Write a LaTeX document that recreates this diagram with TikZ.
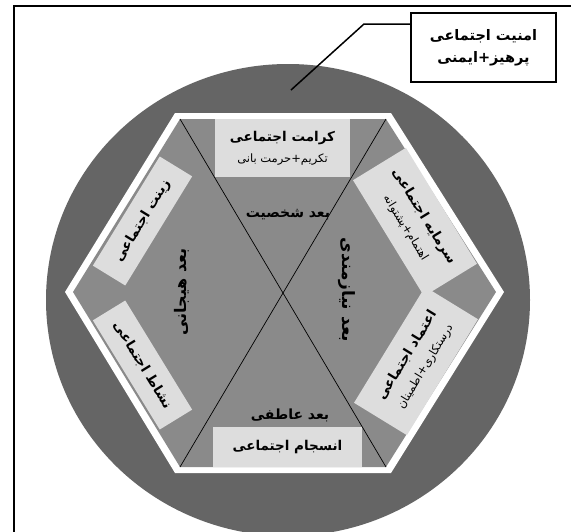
\documentclass[tikz,border=0pt]{standalone}
\usepackage{fontspec}
\usepackage{tikz}
\newfontfamily\arabicfont[Script=Arabic]{DejaVu Sans}
\TeXXeTstate=1
\definecolor{ringgray}{HTML}{656565}
\definecolor{hexgray}{HTML}{8A8A8A}
\definecolor{boxgray}{HTML}{DDDDDD}
\newcommand{\fatext}[1]{{\arabicfont\beginR #1\endR}}
\newcommand{\subline}[1]{{\mdseries\fontsize{11.5}{13}\selectfont\fatext{#1}}}

\begin{document}
\begin{tikzpicture}[x=1pt, y=-1pt,
    lbl/.style={fill=boxgray, inner sep=0pt, align=center, font=\bfseries\fontsize{13.5}{21}\selectfont},
    dimlbl/.style={inner sep=0pt, font=\bfseries\fontsize{14}{16}\selectfont}
]
    \useasboundingbox (0,0) rectangle (571,531);
    \clip (0,0) rectangle (571,531);
    \fill[white] (0,0) rectangle (571,531);

    % Frame
    \draw[line width=2.7] (14,540) -- (14,6) -- (580,6);

    % Ring
    \fill[ringgray] (288,300) ellipse [x radius=242, y radius=236];

    % Hexagon
    \coordinate (oL) at (65,292);
    \coordinate (oTL) at (175,113);
    \coordinate (oTR) at (391,113);
    \coordinate (oR) at (504,292);
    \coordinate (oBR) at (391,473);
    \coordinate (oBL) at (175,473);
    \coordinate (iL) at (73,292);
    \coordinate (iTL) at (180,119);
    \coordinate (iTR) at (386,119);
    \coordinate (iR) at (496,292);
    \coordinate (iBR) at (386,467);
    \coordinate (iBL) at (180,467);
    \fill[white] (oL) -- (oTL) -- (oTR) -- (oR) -- (oBR) -- (oBL) -- cycle;
    \fill[hexgray] (iL) -- (iTL) -- (iTR) -- (iR) -- (iBR) -- (iBL) -- cycle;
    \draw[line width=0.7] (iTL) -- (iBR);
    \draw[line width=0.7] (iTR) -- (iBL);

    % Boxes
    \node[lbl, minimum width=135, minimum height=58] (karamat) at (282.5,148)
        {\fatext{کرامت اجتماعی}\\\subline{تکریم+حرمت بانی}};
    \node[lbl, minimum width=149, minimum height=40] (ensejam) at (287.5,447)
        {\fatext{انسجام اجتماعی}};
    \node[lbl, minimum width=128, minimum height=38, rotate=58.5] (zinat) at (142.5,221)
        {\fatext{زینت اجتماعی}};
    \node[lbl, minimum width=128, minimum height=38, rotate=-58.5] (neshat) at (142.5,365)
        {\fatext{نشاط اجتماعی}};
    \node[lbl, minimum width=136, minimum height=62, rotate=-58.5] (sarmaye) at (415,222)
        {\fatext{سرمایه اجتماعی}\\\subline{اهتمام+پشتوانه}};
    \node[lbl, minimum width=136, minimum height=62, rotate=58.5] (etemad) at (416,361)
        {\fatext{اعتماد اجتماعی}\\\subline{درستکاری+اطمینان}};

    % Dimensions
    \node[dimlbl] (shakhsiat) at (288,215) {\fatext{بعد شخصیت}};
    \node[dimlbl] (atefi) at (290,415) {\fatext{بعد عاطفی}};
    \node[dimlbl, font=\bfseries\fontsize{16}{18}\selectfont, rotate=90] (hayajani) at (182,292) {\fatext{بعد هیجانی}};
    \node[dimlbl, font=\bfseries\fontsize{17}{19}\selectfont, rotate=-90] (niaz) at (347,290) {\fatext{بعد نیازمندی}};

    % Callout
    \node[draw, line width=2, fill=white, minimum width=145, minimum height=69, inner sep=0pt, align=center,
        font=\bfseries\fontsize{14.5}{22}\selectfont] (amniat) at (483.5,47.5)
        {\fatext{امنیت اجتماعی}\\\fatext{پرهیز+ایمنی}};
    \coordinate (elbow) at (364,24);
    \coordinate (tip) at (291,90);
    \draw[line width=1.5] (amniat.west |- elbow) -- (elbow) -- (tip);
\end{tikzpicture}
\end{document}
